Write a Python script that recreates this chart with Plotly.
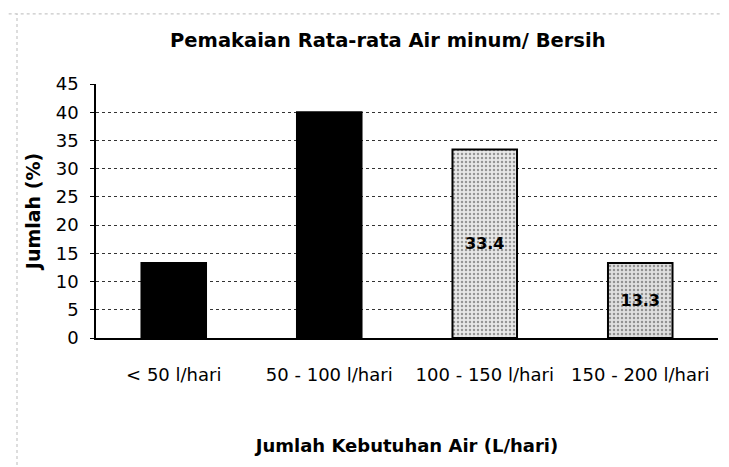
import plotly.graph_objects as go

categories = ["< 50 l/hari", "50 - 100 l/hari", "100 - 150 l/hari", "150 - 200 l/hari"]
values = [13.3, 40.0, 33.4, 13.3]
bar_labels = ["", "", "<b>33.4</b>", "<b>13.3</b>"]
y_ticks = [0, 5, 10, 15, 20, 25, 30, 35, 40, 45]

FONT = "DejaVu Sans, Arial, sans-serif"

fig = go.Figure()
fig.add_trace(go.Bar(
    x=categories,
    y=values,
    text=bar_labels,
    textposition="inside",
    insidetextanchor="middle",
    textangle=0,
    textfont=dict(family=FONT, size=16, color="black"),
    width=0.415,
    marker=dict(
        color=["black", "black", "#e8e8e8", "#e0e0e0"],
        line=dict(color="black", width=2),
        pattern=dict(
            shape=["", "", ".", "."],
            fgcolor="#909090",
            bgcolor="#f2f2f2",
            size=4,
            solidity=0.3,
        ),
    ),
    showlegend=False,
))

fig.update_layout(
    width=729,
    height=467,
    paper_bgcolor="white",
    plot_bgcolor="white",
    margin=dict(l=88, r=19, t=76, b=137),
    title=dict(
        text="<b>Pemakaian Rata-rata Air minum/ Bersih</b>",
        x=0.521, xanchor="center", y=0.931, yanchor="middle",
        font=dict(family=FONT, size=19.5, color="black"),
    ),
    font=dict(family=FONT, color="black"),
    uniformtext=dict(minsize=16, mode="show"),
    shapes=[
        dict(type="line", xref="paper", yref="paper", x0=-0.15, x1=1.04, y0=1.276, y1=1.276,
             line=dict(color="#bbbbbb", width=1, dash="dot")),
        dict(type="line", xref="paper", yref="paper", x0=-0.127, x1=-0.127, y0=-0.5, y1=1.276,
             line=dict(color="#bbbbbb", width=1, dash="dot")),
    ],
)

fig.update_xaxes(
    title=dict(text="<b>Jumlah Kebutuhan Air (L/hari)</b>", font=dict(family=FONT, size=18, color="black"), standoff=55),
    tickfont=dict(family=FONT, size=18, color="black"),
    ticklabelstandoff=20,
    showline=True, linecolor="black", linewidth=1.5,
    ticks="", showgrid=False,
)

fig.update_yaxes(
    title=dict(text="<b>Jumlah (%)</b>", font=dict(family=FONT, size=19, color="black"), standoff=10),
    range=[0, 45],
    tickvals=y_ticks,
    tickfont=dict(family=FONT, size=18, color="black"),
    ticklabelstandoff=8,
    showline=True, linecolor="black", linewidth=1.5,
    showgrid=True, gridcolor="#333333", gridwidth=1, griddash="dot",
    ticks="outside", ticklen=4, tickcolor="black",
    zeroline=False,
)

fig.write_html("out.html")
